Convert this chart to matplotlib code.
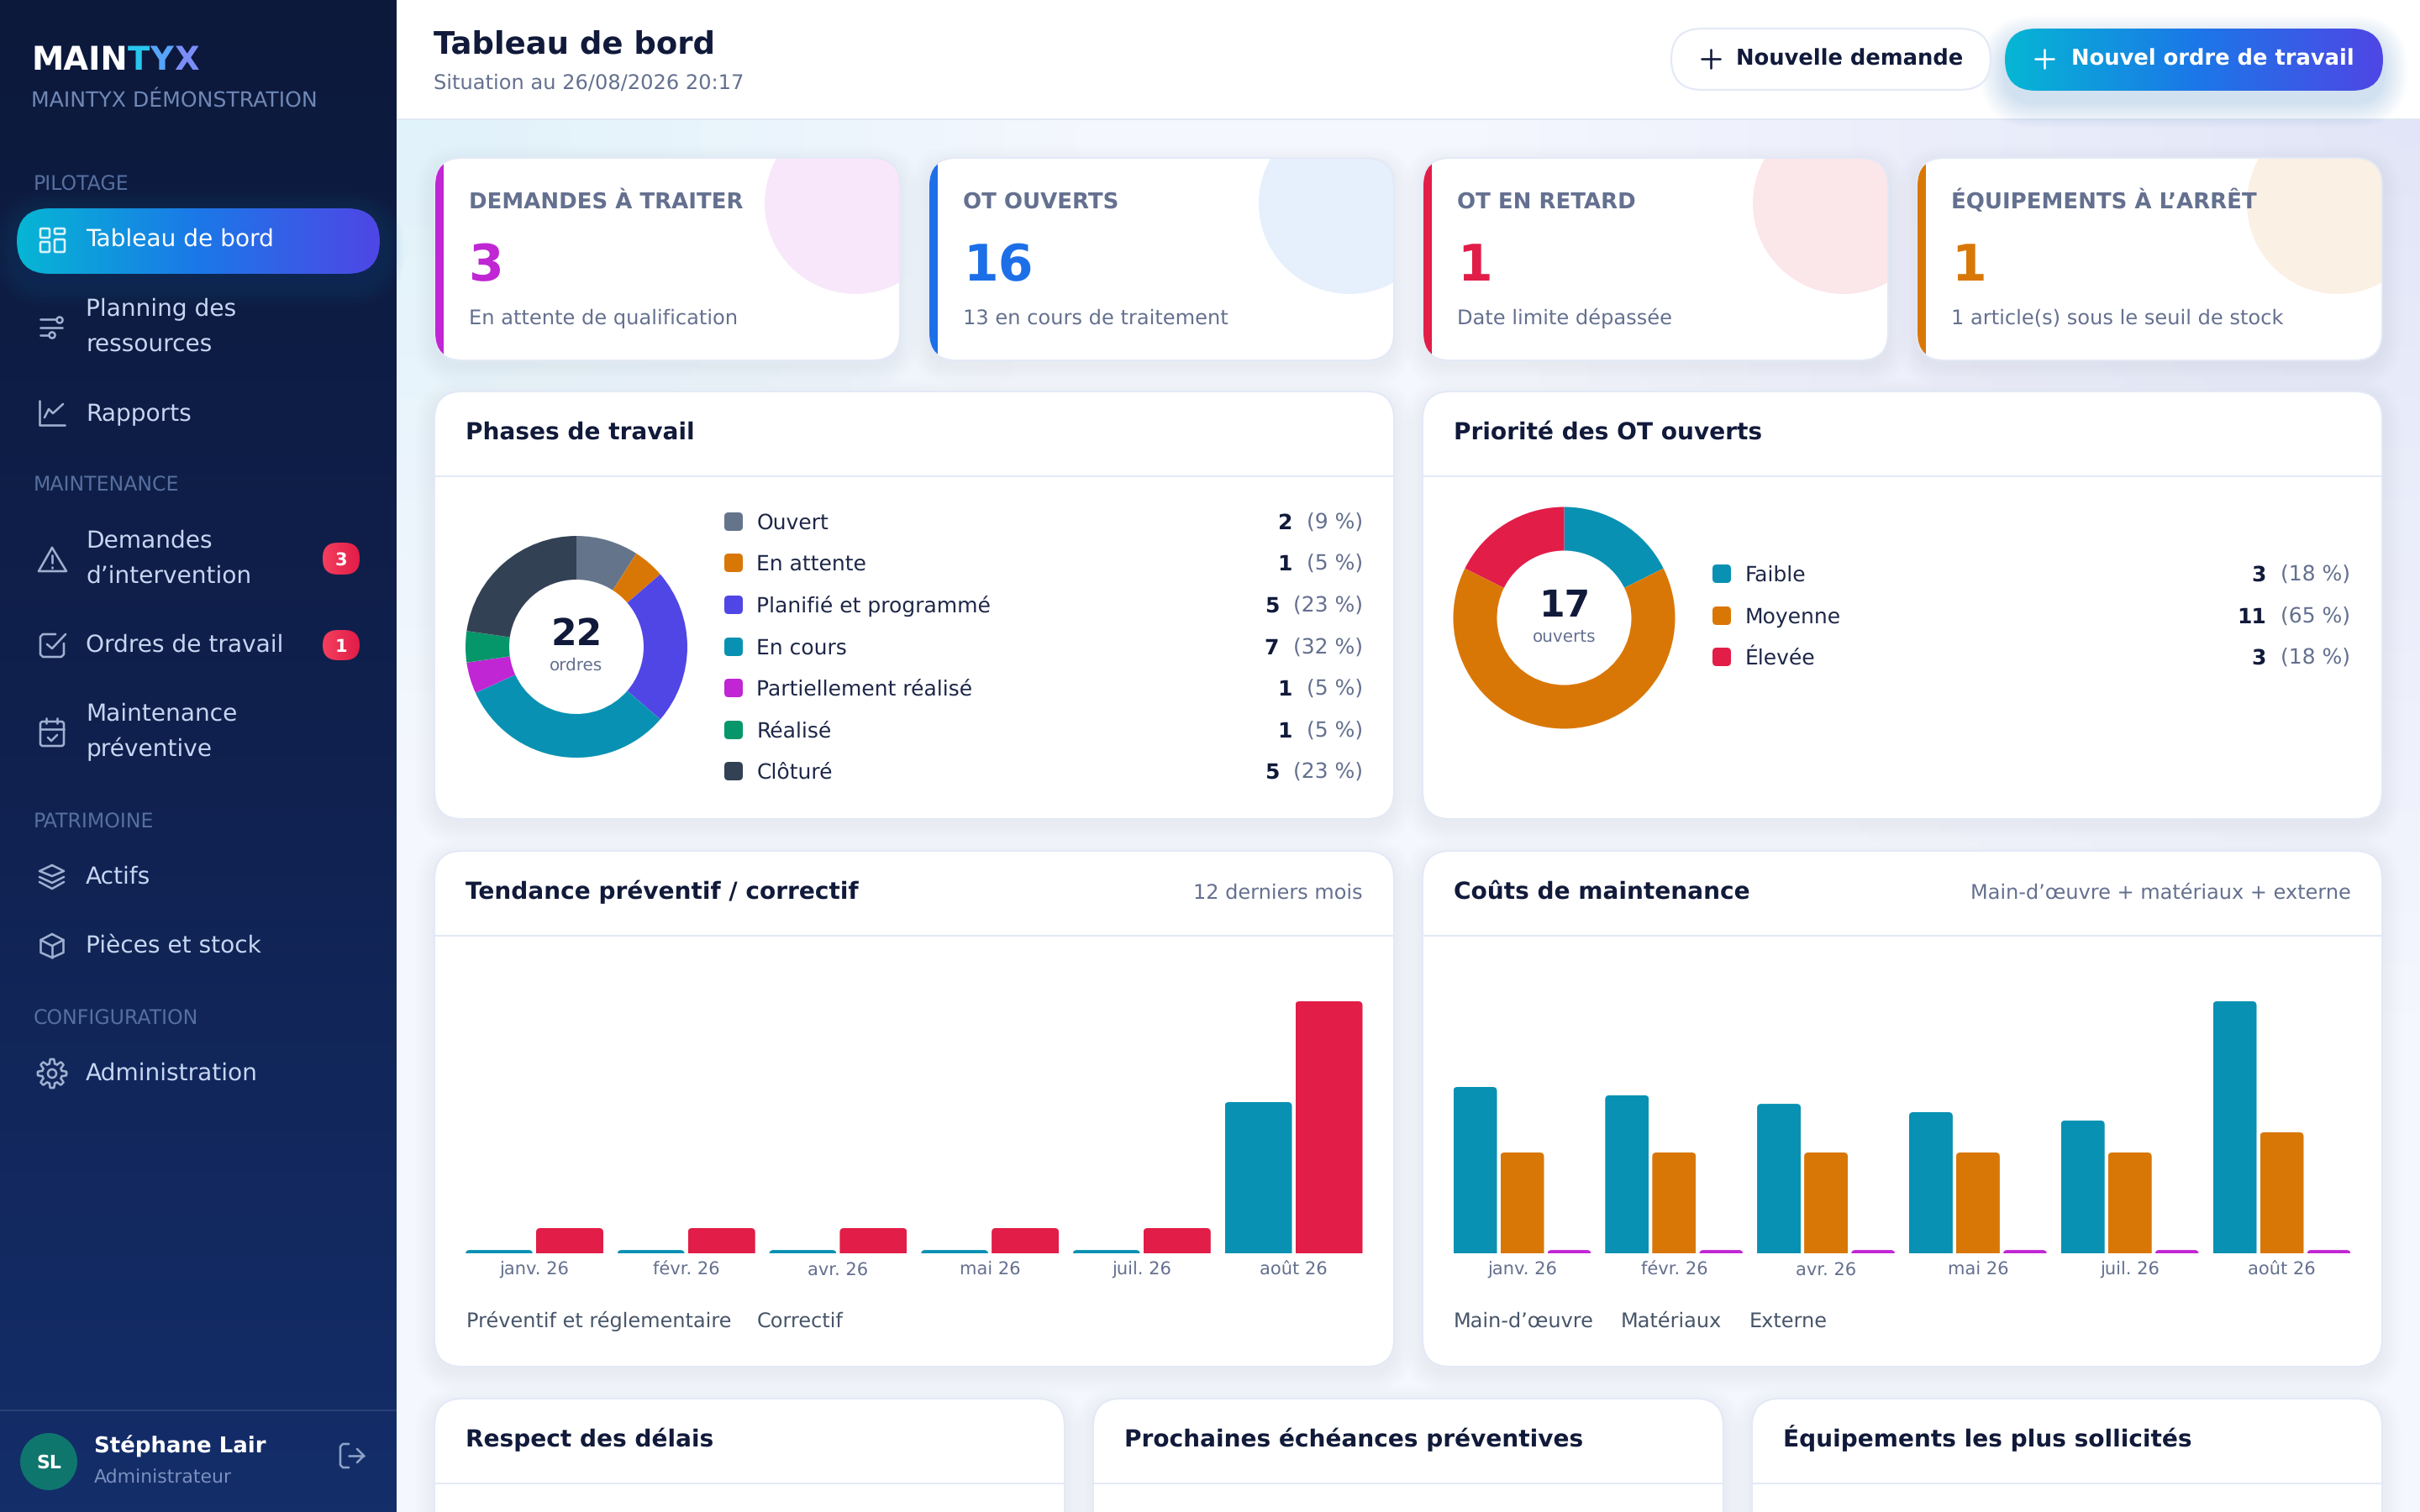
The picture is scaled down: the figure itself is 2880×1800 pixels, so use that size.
import numpy as np
import matplotlib
matplotlib.use('Agg')
import matplotlib.pyplot as plt
from matplotlib.colors import LinearSegmentedColormap
from matplotlib.patches import Circle, FancyBboxPatch, Rectangle
from matplotlib.transforms import IdentityTransform

W, H = 2880, 1800
plt.rcParams['font.family'] = 'DejaVu Sans'
plt.rcParams['text.hinting'] = 'no_hinting'

# chart data
phase_labels = ['Ouvert', 'En attente', 'Planifié et programmé', 'En cours',
                'Partiellement réalisé', 'Réalisé', 'Clôturé']
phase_values = [2, 1, 5, 7, 1, 1, 5]
phase_pct = ['(9 %)', '(5 %)', '(23 %)', '(32 %)', '(5 %)', '(5 %)', '(23 %)']
phase_colors = ['#64748b', '#d97706', '#4f46e5', '#0891b2', '#c026d3', '#059669', '#334155']

prio_labels = ['Faible', 'Moyenne', 'Élevée']
prio_values = [3, 11, 3]
prio_pct = ['(18 %)', '(65 %)', '(18 %)']
prio_colors = ['#0891b2', '#d97706', '#e11d48']

months = ['janv. 26', 'févr. 26', 'avr. 26', 'mai 26', 'juil. 26', 'août 26']
preventif = [0.13, 0.13, 0.13, 0.13, 0.13, 6]
correctif = [1, 1, 1, 1, 1, 10]
main_oeuvre = [660, 627, 593, 560, 527, 1000]
materiaux = [400, 400, 400, 400, 400, 480]
externe = [13, 13, 13, 13, 13, 13]

kpi_titles = ['DEMANDES À TRAITER', 'OT OUVERTS', 'OT EN RETARD', 'ÉQUIPEMENTS À L’ARRÊT']
kpi_values = ['3', '16', '1', '1']
kpi_notes = ['En attente de qualification', '13 en cours de traitement',
             'Date limite dépassée', '1 article(s) sous le seuil de stock']
kpi_colors = ['#c026d3', '#1d6fe8', '#e11d48', '#d97706']

INK = '#111a3a'
MUTED = '#64708f'
NAV = '#c6d6f2'
ICON = '#9fb0d0'
BORDER = '#e3e9f6'

fig = plt.figure(figsize=(W / 200, H / 200), dpi=200)
ui = fig.add_axes([0, 0, 1, 1])
ui.set_xlim(0, W)
ui.set_ylim(H, 0)
ui.axis('off')
ui.set_autoscale_on(False)
renderer = fig.canvas.get_renderer()


def txt(x, y, s, px, color=INK, weight='normal', ha='left', z=6):
    # px is the font size in output pixels, y the baseline
    return ui.text(x, y, s, fontsize=px * 0.36, color=color, fontweight=weight,
                   ha=ha, va='baseline', zorder=z)


def box(x, y, w, h, r, z=3, **kw):
    kw.setdefault('linewidth', 0)
    p = FancyBboxPatch((x, y), w, h, boxstyle=f'round,pad=0,rounding_size={r}',
                       zorder=z, **kw)
    ui.add_patch(p)
    return p


def gradient(x0, y0, x1, y1, colors, z, clip=None, vertical=False):
    cmap = LinearSegmentedColormap.from_list('g', colors)
    ramp = np.linspace(0, 1, 256)
    ramp = ramp.reshape(-1, 1) if vertical else ramp.reshape(1, -1)
    im = ui.imshow(ramp, cmap=cmap, extent=(x0, x1, y1, y0), aspect='auto',
                   interpolation='bilinear', zorder=z)
    if clip is not None:
        im.set_clip_path(clip)
    return im


def shadow(x, y, w, h, r, color='#1b2a5e', spread=24, drop=8, alpha=0.0022, z=2):
    for s in range(spread, 0, -2):
        box(x - s, y - s + drop, w + 2 * s, h + 2 * s, r + s, z=z, facecolor=color, alpha=alpha)


def card(x, y, w, h, r=32):
    shadow(x, y, w, h, r)
    box(x - 2, y - 2, w + 4, h + 4, r + 2, z=3, facecolor=BORDER)
    return box(x, y, w, h, r, z=3, facecolor='white')


def stroke(pts, color=ICON, lw=2.6, z=6):
    xs, ys = zip(*pts)
    ui.plot(xs, ys, color=color, lw=lw * 0.36, solid_capstyle='round',
            solid_joinstyle='round', zorder=z)


def ring(x, y, r, color=ICON, lw=2.6, z=6):
    ui.add_patch(Circle((x, y), r, fill=False, edgecolor=color, linewidth=lw * 0.36, zorder=z))


def outline(x, y, w, h, r, color=ICON, lw=2.6, z=6):
    box(x, y, w, h, r, z=z, fill=False, edgecolor=color, linewidth=lw * 0.36)


# page background
gy, gx = np.mgrid[0:H:150j, 0:W:240j]
base = np.array([244, 247, 254.0])
tint_c = np.clip(1 - np.hypot(gx - 472, gy - 100) / 800, 0, 1)[..., None]
tint_v = np.clip(1 - np.hypot(gx - 2880, gy - 100) / 1100, 0, 1)[..., None]
page = base + tint_c * np.array([-20, -5, -4.0]) + tint_v * np.array([-18, -18, -7.0])
ui.imshow(page.clip(0, 255).astype(np.uint8), extent=(0, W, H, 0), aspect='auto',
          interpolation='bilinear', zorder=0)

# sidebar
gradient(0, 0, 472, H, ['#0c193b', '#10214f', '#142e6a'], 1, vertical=True)
txt(37, 83, 'MAIN', 38.5, 'white', 'bold')
logo_x = 152
for letter, col in zip('TYX', ['#28c6ee', '#58a4f8', '#7b8ef8']):
    t = txt(logo_x, 83, letter, 38.5, col, 'bold')
    logo_x = t.get_window_extent(renderer).x1 + 0.5
txt(37, 127, 'MAINTYX DÉMONSTRATION', 25.2, '#7088b5')
for label, y in [('PILOTAGE', 227), ('MAINTENANCE', 585), ('PATRIMOINE', 986), ('CONFIGURATION', 1220)]:
    txt(40, y, label, 23.6, '#566f9f')

shadow(20, 248, 432, 78, 39, color='#2a7bea', spread=30, drop=10, alpha=0.012, z=2)
pill = box(20, 248, 432, 78, 39, z=3, facecolor='none')
gradient(20, 248, 452, 326, ['#06b6d4', '#1b78e8', '#4f46e5'], 3, clip=pill)

nav_items = [('Tableau de bord', 293), ('Planning des', 376), ('ressources', 419), ('Rapports', 501),
             ('Demandes', 652), ('d’intervention', 694), ('Ordres de travail', 776),
             ('Maintenance', 858), ('préventive', 900), ('Actifs', 1052),
             ('Pièces et stock', 1134), ('Administration', 1286)]
for i, (label, y) in enumerate(nav_items):
    txt(102, y, label, 28, 'white' if i == 0 else NAV)

# sidebar icons
act = '#d8f3fb'
outline(48, 272, 11, 11, 1.5, act)
outline(65, 272, 12, 6.5, 1.5, act)
outline(48, 288, 11, 12, 1.5, act)
outline(65, 285, 12, 15, 1.5, act)

stroke([(48, 380), (66, 380)])
ring(71, 381, 3.5)
stroke([(48, 390), (74, 390)])
stroke([(48, 399), (57, 399)])
ring(62, 399, 3.5)

stroke([(47, 477), (47, 506), (77, 506)])
stroke([(53, 497), (58, 487), (63, 492), (75, 481)])

stroke([(62, 652), (79, 680), (46, 680), (62, 652)])
stroke([(62, 661), (62, 670)])
stroke([(62, 675), (62, 675.5)])

stroke([(66, 755), (51, 755), (48, 758), (48, 779), (51, 782), (73, 782), (76, 779), (76, 766)])
stroke([(56, 767), (62, 772), (78, 755)])

outline(48, 859, 28, 29, 3)
stroke([(48, 868), (76, 868)])
stroke([(55, 855), (55, 861)])
stroke([(68, 855), (68, 861)])
stroke([(57, 878), (61, 882), (68, 875)])

stroke([(62, 1030), (76, 1037), (62, 1043), (47, 1037), (62, 1030)])
stroke([(47, 1044), (62, 1051), (76, 1044)])
stroke([(47, 1050), (62, 1058), (76, 1050)])

stroke([(62, 1112), (75.5, 1119), (75.5, 1134), (62, 1140), (48.5, 1134), (48.5, 1119), (62, 1112)])
stroke([(48.5, 1119), (62, 1126), (75.5, 1119)])
stroke([(62, 1126), (62, 1140)])

gear_a = np.linspace(0, 2 * np.pi, 97)
gear_r = 14.5 + 2.6 * np.clip(3 * np.cos(8 * gear_a), -1, 1)
stroke(list(zip(62 + gear_r * np.cos(gear_a), 1278 + gear_r * np.sin(gear_a))))
ring(62, 1278, 5)

for label, y0, y1 in [('3', 646, 684), ('1', 750, 786)]:
    b = box(384, y0, 44, y1 - y0, 18, z=3, facecolor='none')
    gradient(384, y0, 428, y1, ['#f43f5e', '#e11d48'], 3, clip=b)
    txt(406, (y0 + y1) / 2 + 7.5, label, 21, 'white', 'bold', ha='center')

ui.add_patch(Rectangle((0, 1678), 472, 2, facecolor='#2a4175', linewidth=0, zorder=3))
ui.add_patch(Circle((58, 1740), 34, facecolor='#0f766e', linewidth=0, zorder=3))
txt(58, 1748, 'SL', 22, 'white', 'bold', ha='center')
txt(112, 1730, 'Stéphane Lair', 26, 'white', 'bold')
txt(112, 1766, 'Administrateur', 22, '#7b90bd')
stroke([(415, 1719), (408, 1719), (405, 1722), (405, 1744), (408, 1747), (415, 1747)], '#8fa3c9')
stroke([(415, 1733), (433, 1733)], '#8fa3c9')
stroke([(425, 1725), (433, 1733), (425, 1741)], '#8fa3c9')

# header
ui.add_patch(Rectangle((472, 0), W - 472, 141, facecolor='white', linewidth=0, zorder=2))
ui.add_patch(Rectangle((472, 141), W - 472, 2, facecolor='#e2e8f4', linewidth=0, zorder=2))
txt(516, 63, 'Tableau de bord', 37, INK, 'bold')
txt(516, 106, 'Situation au 26/08/2026 20:17', 24.2, MUTED)

box(1989, 34, 380, 73, 36.5, z=3, facecolor='white', edgecolor=BORDER, linewidth=0.8)
stroke([(2025, 70), (2047, 70)], INK)
stroke([(2036, 59), (2036, 81)], INK)
txt(2066, 78, 'Nouvelle demande', 25.8, INK, 'bold')

shadow(2386, 34, 450, 74, 37, color='#2a6fe8', spread=30, drop=14, alpha=0.012, z=2.5)
btn = box(2386, 34, 450, 74, 37, z=3, facecolor='none')
gradient(2386, 34, 2836, 108, ['#06b6d4', '#1b78e8', '#4f46e5'], 3, clip=btn)
stroke([(2422, 70), (2444, 70)], 'white')
stroke([(2433, 59), (2433, 81)], 'white')
txt(2465, 78, 'Nouvel ordre de travail', 25.8, 'white', 'bold')

# KPI cards
for i, x in enumerate([518, 1106, 1694, 2282]):
    c = card(x, 189, 552, 239)
    col = kpi_colors[i]
    bar = Rectangle((x, 189), 10, 239, facecolor=col, linewidth=0, zorder=4)
    ui.add_patch(bar)
    bar.set_clip_path(c)
    disc = Circle((x + 500, 242), 108, facecolor=col, alpha=0.11, linewidth=0, zorder=4)
    ui.add_patch(disc)
    disc.set_clip_path(c)
    txt(x + 40, 248, kpi_titles[i], 26, MUTED, 'bold')
    txt(x + 40, 334, kpi_values[i], 60, col, 'bold')
    txt(x + 40, 386, kpi_notes[i], 24.2, MUTED)


def panel(x, y, w, h, title, note=None):
    c = card(x, y, w, h)
    line = Rectangle((x, y + h0), w, 2, facecolor=BORDER, linewidth=0, zorder=4)
    ui.add_patch(line)
    txt(x + 36.5, y + 56, title, 28, INK, 'bold')
    if note:
        txt(x + w - 36, y + 56, note, 24, MUTED, ha='right')
    return c


h0 = 99
panel(518, 467, 1140, 507, 'Phases de travail')
panel(1694, 467, 1140, 507, 'Priorité des OT ouverts')
panel(518, 1014, 1140, 612, 'Tendance préventif / correctif', '12 derniers mois')
panel(1694, 1014, 1140, 612, 'Coûts de maintenance', 'Main-d’œuvre + matériaux + externe')
panel(518, 1666, 748, 300, 'Respect des délais')
panel(1302, 1666, 748, 300, 'Prochaines échéances préventives')
panel(2086, 1666, 748, 300, 'Équipements les plus sollicités')


def donut(cx, cy, values, colors, total, unit):
    r_out, r_in = 132, 80
    ax = fig.add_axes([(cx - r_out) / W, 1 - (cy + r_out) / H, 2 * r_out / W, 2 * r_out / H], zorder=2)
    ax.pie(values, colors=colors, startangle=90, counterclock=False, radius=1,
           wedgeprops=dict(width=1 - r_in / r_out, linewidth=0))
    ax.set_xlim(-1, 1)
    ax.set_ylim(-1, 1)
    ax.axis('off')
    txt(cx, cy - 2, total, 44, INK, 'bold', ha='center')
    txt(cx, cy + 28, unit, 20, MUTED, ha='center')


def legend(x, right, ys, labels, values, pct, colors):
    for y, label, val, p, col in zip(ys, labels, values, pct, colors):
        box(x, y - 11, 22, 22, 5, z=4, facecolor=col)
        txt(x + 38.5, y + 9, label, 25, '#1e2748')
        t = txt(right, y + 9, p, 25, MUTED, ha='right')
        txt(t.get_window_extent(renderer).x0 - 17, y + 9, str(val), 25, INK, 'bold', ha='right')


donut(686, 770, phase_values, phase_colors, '22', 'ordres')
legend(862, 1622, [621, 670, 720, 770, 819, 869, 918], phase_labels, phase_values, phase_pct, phase_colors)
donut(1861.5, 735.5, prio_values, prio_colors, '17', 'ouverts')
legend(2038, 2797, [683, 733, 782], prio_labels, prio_values, prio_pct, prio_colors)


def bars(left, right, first_center, pitch, series, colors, ymax, bar_w):
    top, bottom = 1192, 1492
    ax = fig.add_axes([left / W, 1 - bottom / H, (right - left) / W, (bottom - top) / H], zorder=2)
    ax.patch.set_visible(False)
    for s in ax.spines.values():
        s.set_visible(False)
    n = len(series)
    step = (bar_w + 4) / pitch
    x = np.arange(len(months))
    for k, (vals, col) in enumerate(zip(series, colors)):
        rects = ax.bar(x + (k - (n - 1) / 2) * step, vals, width=bar_w / pitch, color=col, linewidth=0)
        ax.set_ylim(0, ymax)
        ax.set_xlim((left - first_center) / pitch, (right - first_center) / pitch)
        for r in rects:
            e = r.get_window_extent(renderer)
            clip = FancyBboxPatch((e.x0, e.y0 - 20), e.width, e.height + 20,
                                  boxstyle='round,pad=0,rounding_size=5', transform=IdentityTransform())
            r.set_clip_path(clip)
    ax.set_yticks([])
    ax.set_xticks(x)
    ax.set_xticklabels(months, fontsize=21 * 0.36, color=MUTED, va='baseline')
    ax.tick_params(axis='x', length=0, pad=9.4)


bars(554, 1622, 636, 180.7, [preventif, correctif], ['#0891b2', '#e11d48'], 10, 80)
bars(1730, 2798, 1811.5, 180.8, [main_oeuvre, materiaux, externe], ['#0891b2', '#d97706', '#c026d3'], 1000, 52)

# chart legends have no swatch in the reference
for x, label in [(555, 'Préventif et réglementaire'), (901, 'Correctif'),
                 (1730, 'Main-d’œuvre'), (1929, 'Matériaux'), (2082, 'Externe')]:
    txt(x, 1580, label, 24, '#475569')

ui.set_xlim(0, W)
ui.set_ylim(H, 0)
fig.savefig('out.png', dpi=200)
